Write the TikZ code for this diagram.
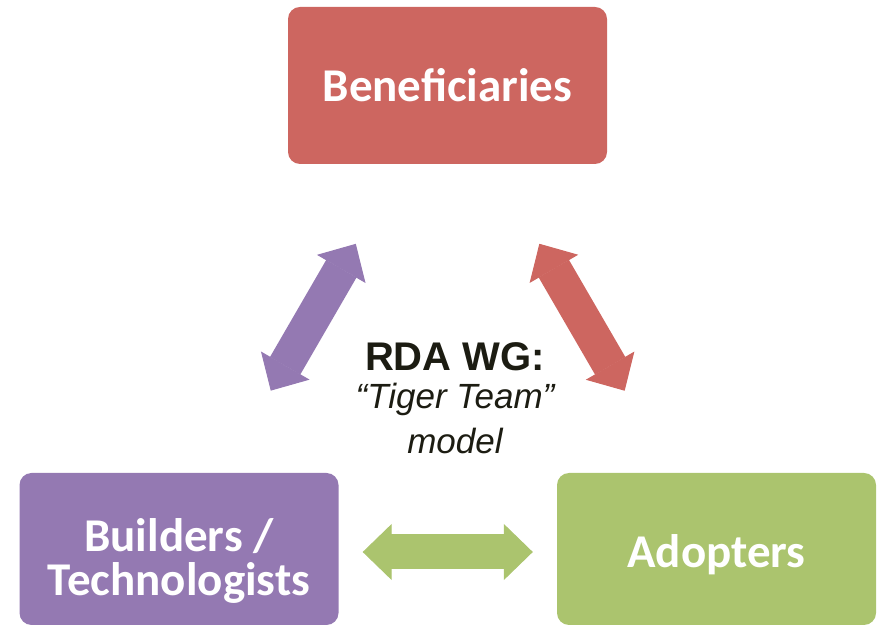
\documentclass[tikz,border=0pt]{standalone}
\usepackage{fontspec}
\setmainfont{Liberation Sans}
\newfontfamily\boxfont{Carlito}
\usetikzlibrary{arrows.meta}
\definecolor{benred}{HTML}{CD6660}
\definecolor{bldpurple}{HTML}{9479B2}
\definecolor{adogreen}{HTML}{ABC46E}
\definecolor{wgtext}{HTML}{1C1C12}
\begin{document}
\begin{tikzpicture}[x=1pt, y=1pt,
  rolebox/.style={fill=#1, rounded corners=12pt, minimum width=319pt, minimum height=152pt, inner sep=0pt, align=center, text=white, font=\boxfont\bfseries\fontsize{47pt}{44pt}\selectfont},
  linkarrow/.style={draw=#1, line width=35pt, {Triangle[length=29pt, width=56pt, line width=1pt]}-{Triangle[length=29pt, width=56pt, line width=1pt]}}]
\useasboundingbox (0,0) rectangle (878,626);
% the three groups
\node[rolebox=benred, minimum height=157pt, text height=33pt, text depth=0pt] (ben) at (447.5,540.5) {Beneficiaries};
\node[rolebox=bldpurple, text height=94pt, text depth=0pt] (bld) at (179,77) {Builders /\\Technologists};
\node[rolebox=adogreen, text height=38pt, text depth=0pt] (ado) at (716.5,77) {Adopters};
% links between them
\draw[linkarrow=bldpurple, shorten <=183pt, shorten >=183pt] (bld.center) -- (ben.center);
\draw[linkarrow=benred, shorten <=183pt, shorten >=183pt] (ben.center) -- (ado.center);
\draw[linkarrow=adogreen, shorten <=24pt, shorten >=24pt] ([yshift=-3pt]bld.east) -- ([yshift=-3pt]ado.west);
% working group in the middle
\node[align=center, text=wgtext, font=\fontsize{35pt}{45pt}\selectfont] (wg) at (455,228) {{\bfseries\fontsize{40pt}{45pt}\selectfont RDA WG:}\\[-7pt]{\itshape “Tiger Team”}\\{\itshape model}};
\end{tikzpicture}
\end{document}
